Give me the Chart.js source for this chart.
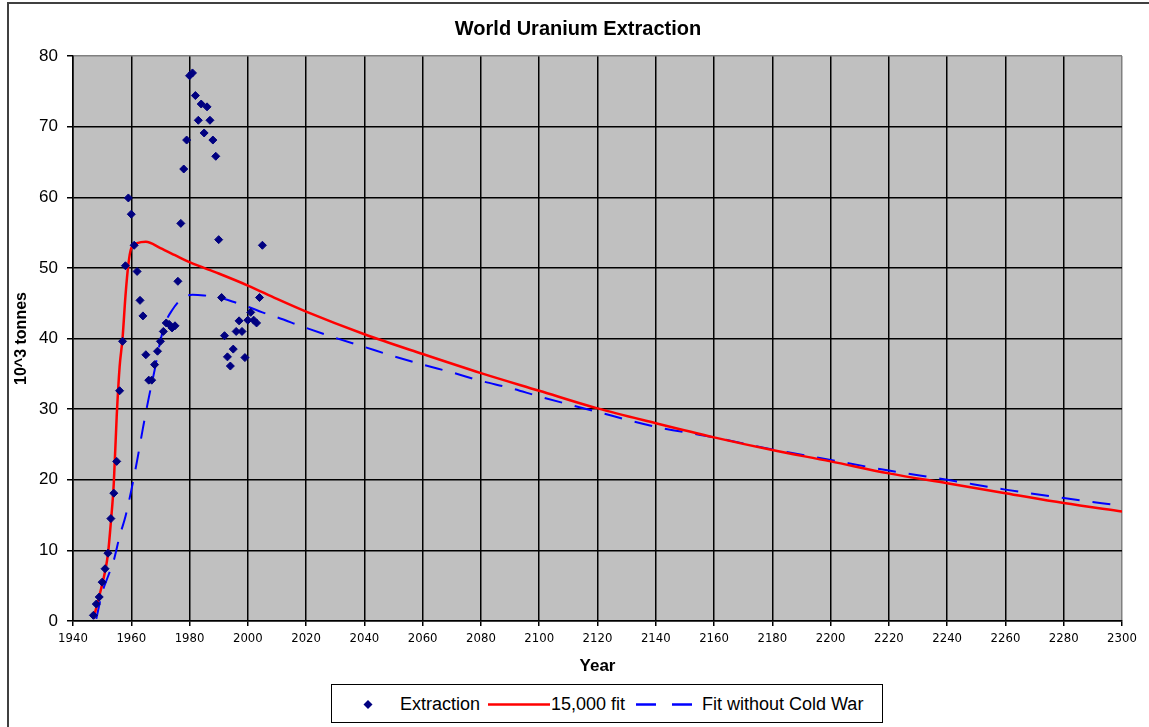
<!DOCTYPE html>
<html><head><meta charset="utf-8">
<script src="https://cdn.jsdelivr.net/npm/chart.js@4/dist/chart.umd.min.js"></script>
<style>
html,body{margin:0;padding:0;background:#fff;}
#wrap{position:relative;width:1149px;height:727px;overflow:hidden;background:#fff;}
#frame{position:absolute;left:7px;top:2px;width:1170px;height:760px;border-left:2px solid #404040;border-top:2px solid #404040;box-sizing:border-box;}
#title{position:absolute;left:0;top:16px;width:1156px;text-align:center;font:bold 20px "Liberation Sans",Arial,sans-serif;color:#000;line-height:24px;}
#chart{position:absolute;left:0;top:0;}
#legend{position:absolute;left:331px;top:684px;width:552px;height:39px;border:1px solid #000;box-sizing:border-box;background:#fff;font:18px "Liberation Sans",Arial,sans-serif;color:#000;}
#legend span{position:absolute;top:8px;line-height:22px;white-space:nowrap;}
#legend svg{position:absolute;top:0;}
</style>
</head><body>
<div id="wrap">
<div id="frame"></div>
<canvas id="chart" width="1149" height="727"></canvas>
<div id="title">World Uranium Extraction</div>
<div id="legend">
 <svg style="left:28px" width="16" height="39"><polygon points="8,15 12.5,19.5 8,24 3.5,19.5" fill="#000080"/></svg>
 <span style="left:68px">Extraction</span>
 <svg style="left:156px" width="62" height="39"><line x1="0" y1="19.5" x2="62" y2="19.5" stroke="#FF0000" stroke-width="2.5"/></svg>
 <span style="left:219px">15,000 fit</span>
 <svg style="left:304px" width="58" height="39"><line x1="0" y1="19.5" x2="58" y2="19.5" stroke="#0000FF" stroke-width="2.5" stroke-dasharray="20,16"/></svg>
 <span style="left:370px">Fit without Cold War</span>
</div>
</div>
<script>
// ---- data ----
const extractionYears = [1947,1948,1949,1950,1951,1952,1953,1954,1955,1956,1957,1958,1959,1960,1961,1962,1963,1964,1965,1966,1967,1968,1969,1970,1971,1972,1973,1974,1975,1976,1977,1978,1979,1980,1981,1982,1983,1984,1985,1986,1987,1988,1989,1990,1991,1992,1993,1994,1995,1996,1997,1998,1999,2000,2001,2002,2003,2004,2005];
const extraction = [0.8,2.4,3.4,5.5,7.4,9.6,14.5,18.1,22.6,32.6,39.6,50.3,59.9,57.6,53.2,49.5,45.4,43.2,37.7,34.1,34.1,36.3,38.2,39.6,41.0,42.2,42.0,41.5,41.8,48.1,56.3,64.0,68.1,77.2,77.6,74.4,70.9,73.2,69.1,72.8,70.9,68.1,65.8,54.0,45.8,40.4,37.4,36.1,38.5,41.0,42.5,41.0,37.3,42.6,43.7,42.6,42.2,45.8,53.2];

const fitYears = [1947,1949,1951,1952,1953,1954,1955,1956,1957,1958,1959,1960,1962,1965,1970,1975,1980,1990,2000,2010,2020,2040,2060,2080,2100,2120,2140,2160,2180,2200,2220,2240,2260,2280,2300];
const fitValues = [0.3,3.5,7.0,9.5,14.0,19.5,29.0,36.0,40.0,46.0,50.5,52.8,53.5,53.7,52.8,51.8,50.8,49.2,47.5,45.6,43.8,40.6,37.8,35.1,32.6,30.1,28.0,26.0,24.2,22.6,20.9,19.5,18.1,16.7,15.5];

const noWarYears = [1948,1950,1952,1954,1956,1958,1960,1962,1964,1966,1968,1970,1972,1974,1977,1981,1985,1990,1995,2000,2005,2010,2020,2030,2040,2050,2060,2070,2080,2090,2100,2120,2140,2160,2180,2200,2220,2240,2260,2280,2300];
const noWarValues = [0.3,4.0,6.3,8.6,12.0,14.8,18.5,22.7,27.3,31.6,35.5,39.7,42.5,44.0,45.5,46.2,46.1,45.8,45.2,44.5,43.7,43.0,41.5,40.1,38.8,37.5,36.3,35.2,34.0,33.0,31.8,29.6,27.5,26.0,24.3,22.8,21.3,20.0,18.6,17.4,16.3];

const yearTicks = [1940,1960,1980,2000,2020,2040,2060,2080,2100,2120,2140,2160,2180,2200,2220,2240,2260,2280,2300];
const valueTicks = [0,10,20,30,40,50,60,70,80];

const pts = (xs, ys) => xs.map((x, i) => ({x: x, y: ys[i]}));

const plotBg = {
  id: 'plotBg',
  beforeDraw(chart) {
    const {ctx, chartArea: a} = chart;
    ctx.save();
    ctx.fillStyle = '#C0C0C0';
    ctx.fillRect(a.left, a.top, a.right - a.left, a.bottom - a.top);
    ctx.restore();
  }
};

const sans = '"Liberation Sans", Arial, sans-serif';
const narrow = '"Liberation Sans Narrow", "DejaVu Sans Condensed", "Liberation Sans", Arial, sans-serif';

new Chart(document.getElementById('chart'), {
  type: 'scatter',
  data: {
    datasets: [
      { label: 'Extraction', data: pts(extractionYears, extraction), pointStyle: 'rectRot', pointRadius: 4, pointBorderWidth: 1, backgroundColor: '#000080', borderColor: '#000080', showLine: false, order: 0 },
      { label: '15,000 fit', data: pts(fitYears, fitValues), showLine: true, borderColor: '#FF0000', backgroundColor: '#FF0000', borderWidth: 2.5, pointRadius: 0, cubicInterpolationMode: 'monotone', fill: false, order: 1 },
      { label: 'Fit without Cold War', data: pts(noWarYears, noWarValues), showLine: true, borderColor: '#0000FF', backgroundColor: '#0000FF', borderWidth: 2, borderDash: [18, 13], pointRadius: 0, cubicInterpolationMode: 'monotone', fill: false, order: 2 }
    ]
  },
  options: {
    responsive: false,
    animation: false,
    devicePixelRatio: 1,
    layout: { padding: { left: 0, right: 27, top: 56, bottom: 46 } },
    plugins: { legend: { display: false }, tooltip: { enabled: false }, title: { display: false } },
    scales: {
      x: {
        type: 'linear', min: 1940, max: 2300,
        afterBuildTicks: s => { s.ticks = yearTicks.map(v => ({value: v})); },
        afterFit: s => { s.height = 60; },
        grid: { color: c => (c.tick && c.tick.value === 2300) ? '#808080' : '#000000', lineWidth: 1.5, tickLength: 5, tickColor: '#000000' },
        border: { color: '#000000', width: 1.5 },
        ticks: { color: '#000', font: { family: narrow, size: 13 }, padding: 5, maxRotation: 0, autoSkip: false, callback: v => String(v) },
        title: { display: true, text: 'Year', color: '#000', font: { family: sans, size: 17, weight: 'bold' }, padding: { top: 0, bottom: 4 } }
      },
      y: {
        type: 'linear', min: 0, max: 80,
        afterBuildTicks: s => { s.ticks = valueTicks.map(v => ({value: v})); },
        afterFit: s => { s.width = 73; },
        grid: { color: c => (c.tick && c.tick.value === 80) ? '#808080' : '#000000', lineWidth: 1.5, tickLength: 6, tickColor: '#000000' },
        border: { color: '#000000', width: 1.5 },
        ticks: { color: '#000', font: { family: sans, size: 17 }, padding: 9, callback: v => String(v) },
        title: { display: true, text: '10^3 tonnes', color: '#000', font: { family: sans, size: 16, weight: 'bold' }, padding: { top: 12, bottom: 0 } }
      }
    }
  },
  plugins: [plotBg]
});
</script>
</body></html>
